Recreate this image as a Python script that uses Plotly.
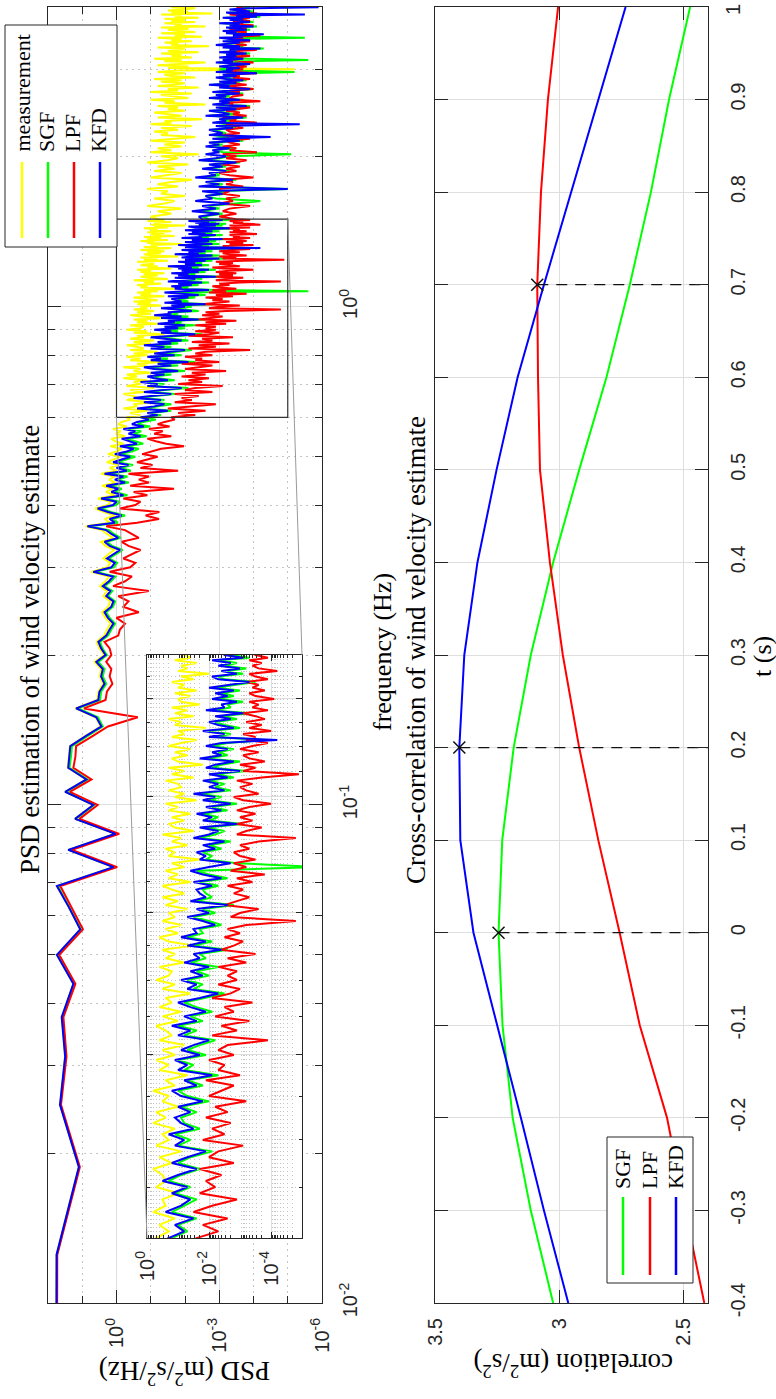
import numpy as np
import plotly.graph_objects as go

FIG_W, FIG_H = 776, 1399

# ---------------- PSD data: log10 PSD (m^2/s^2/Hz) on Welch bins ----------------
bin_width_hz = 0.00625
psd_bins = list(range(1, 241)) + list(range(243, 640, 3))

meas_log10 = [
    1.76,
    1.75, 1.10, 1.65, 1.50, 1.60, 1.26, 1.74, 1.06, 1.40, 1.74,
    0.10, 1.41, 0.04, 1.21, 0.69, 1.50, 0.89, 1.42, 1.39, 1.36,
    0.92, 0.46, 0.61, 1.20, 0.56, 0.53, 0.39, 0.49, 0.45, 0.64,
    0.36, 0.50, 0.58, 0.36, 0.27, 0.17, 0.32, 0.42, 0.24, 0.18,
    0.38, 0.28, 0.48, 0.32, 0.22, 0.74, 0.27, 0.18, 0.38, 0.24,
    0.06, 0.32, 0.45, 0.10, 0.28, 0.42, 0.90, 0.20, 0.34, 0.05,
    0.38, 0.62, 0.25, 0.18, 0.54, 0.05, 0.30, 0.12, 0.42, 0.02,
    0.22, 0.05, 0.45, 0.00, 0.20, -0.05, 0.28, 0.08, -0.10, 0.25,
    0.00, -0.15, 0.18, -0.20, 0.05, 0.15, -0.25, 0.02, -0.12, 0.10,
    -0.30, -0.05, -0.15, -0.40,
    -0.3, -0.7, -0.4, -0.9, -0.2, -0.6, -0.5, -1.0, -0.3, -0.6,
    -0.5, -0.2, -0.8, -0.4, -1.1, -0.3, -0.7, -0.5, -0.9, -0.2,
    -0.6, -0.3, -1.0, -0.5, -0.7, -0.2, -0.9, -0.6, -1.3, -0.4,
    -0.7, -0.3, -0.9, -0.5, -1.2, -0.4, -0.8, -0.6, -0.3, -1.0,
    -0.5, -1.1, -0.4, -0.8, -0.6, -1.4, -0.5, -0.9, -0.3, -0.7,
    -0.8, -0.4, -1.2, -0.6, -0.9, -0.5, -1.5, -0.7, -0.4, -1.0,
    -0.6, -1.1, -0.5, -0.9, -0.7, -1.3, -0.6, -1.0, -0.5, -1.2,
    -0.8, -0.5, -1.4, -0.7, -1.0, -0.6, -1.2, -0.8, -1.7, -0.7,
    -0.9, -0.6, -1.3, -0.8, -1.1, -0.5, -1.5, -0.9, -0.7, -1.2,
    -0.8, -1.4, -0.7, -1.0, -0.6, -1.6, -0.9, -1.2, -0.7, -1.1,
    -1.0, -0.6, -1.5, -0.8, -1.2, -0.7, -1.8, -1.0, -0.8, -1.3,
    -0.9, -1.4, -0.7, -1.1, -1.6, -0.8, -1.2, -1.0, -1.9, -0.9,
    -1.1, -0.7, -1.5, -0.9, -1.3, -0.8, -1.7, -1.1, -1.0, -1.4,
    -0.9, -1.6, -1.0, -1.2, -0.8, -1.5, -1.1, -2.0, -1.0, -1.3,
    -1.1, -1.6, -0.9, -1.4, -1.2,
    -1.0, -1.6, -1.2, -1.9, -0.9, -1.4, -1.7, -1.1, -2.0, -1.3,
    -1.5, -0.9, -1.8, -1.2, -1.6, -2.2, -1.0, -1.4, -1.9, -1.1,
    -1.7, -1.2, -2.1, -0.9, -1.5, -1.8, -1.3, -2.4, -1.0, -1.6,
    -1.2, -1.9, -1.4, -2.0, -1.0, -1.7, -2.3, -1.3, -1.5, -1.1,
    -1.8, -1.3, -2.2, -1.0, -1.6, -1.4, -2.5, -1.2, -1.9, -1.5,
    -1.1, -2.0, -1.5, -1.8, -1.2, -2.6, -1.4, -1.7, -1.0, -2.1,
    -1.6, -1.3, -2.2, -1.0, -1.8, -1.5, -2.4, -1.2, -1.7, -2.0,
    -1.3, -1.9, -1.1, -2.3, -1.6, -1.4, -2.0, -1.2, -1.8, -5.2,
    -1.5, -2.1, -1.2, -1.8, -2.6, -1.4, -1.9, -1.1, -2.2, -1.6,
    -1.9, -1.3, -2.4, -1.5, -1.7, -2.0, -1.2, -2.7, -1.6, -1.8,
    -1.4, -2.2, -1.6, -1.9, -1.2, -2.5, -1.7, -2.0, -1.3, -2.3,
    -1.8, -1.5, -2.1, -1.3, -2.6, -1.7, -1.9, -1.4, -2.3, -1.6,
    -2.0, -1.4, -2.4, -1.7, -1.9, -1.3, -2.8, -1.6, -2.1, -1.5,
    -1.9, -2.3, -1.6,
]

sgf_log10 = [
    1.75,
    1.74, 1.09, 1.64, 1.49, 1.59, 1.25, 1.72, 1.04, 1.38, 1.71,
    0.07, 1.38, 0.01, 1.18, 0.65, 1.46, 0.84, 1.37, 1.33, 1.30,
    0.85, 0.40, 0.54, 1.12, 0.48, 0.45, 0.30, 0.40, 0.35, 0.53,
    0.28, 0.41, 0.48, 0.25, 0.15, 0.04, 0.20, 0.30, 0.10, 0.04,
    0.25, 0.12, 0.35, 0.16, 0.03, 0.60, 0.08, -0.02, 0.22, 0.03,
    -0.18, 0.13, 0.28, -0.12, 0.08, 0.22, 0.78, -0.04, 0.12, -0.25,
    0.17, 0.46, 0.01, -0.10, 0.36, -0.32, 0.05, -0.15, 0.20, -0.36,
    -0.05, -0.32, 0.25, -0.42, -0.12, -0.48, -0.02, -0.28, -0.55, -0.08,
    -0.45, -0.65, -0.25, -0.78, -0.55, -0.30, -0.88, -0.50, -0.72, -0.35,
    -0.98, -0.62, -0.78, -1.15,
    -0.8, -1.3, -1.0, -1.6, -0.8, -1.2, -1.6, -0.9, -1.4, -0.7,
    -1.1, -1.7, -1.0, -1.4, -2.1, -1.0, -1.4, -0.9, -1.7, -1.2,
    -1.1, -1.6, -1.1, -2.0, -1.3, -1.0, -1.8, -1.3, -2.3, -1.2,
    -1.5, -1.0, -1.9, -1.3, -1.7, -2.2, -1.2, -1.6, -1.0, -1.8,
    -1.4, -2.1, -1.6, -1.2, -1.9, -2.5, -1.5, -1.8, -1.3, -2.0,
    -1.6, -2.3, -1.4, -1.9, -1.7, -2.6, -1.5, -2.1, -1.3, -1.8,
    -1.7, -2.4, -2.0, -1.5, -2.2, -1.8, -2.8, -1.6, -2.1, -1.9,
    -1.8, -2.3, -1.7, -2.6, -2.0, -1.6, -5.6, -2.9, -1.9, -2.1,
    -1.8, -2.4, -2.0, -2.7, -1.7, -2.2, -2.5, -1.9, -3.1, -2.0,
    -2.3, -1.8, -2.6, -2.1, -2.9, -2.0, -2.4, -1.7, -2.7, -2.2,
    -2.5, -2.0, -2.8, -2.2, -3.2, -2.1, -2.4, -3.0, -1.9, -2.6,
    -2.3, -2.8, -2.1, -2.6, -3.8, -2.2, -2.7, -2.0, -3.0, -2.5,
    -2.2, -2.9, -2.4, -3.3, -2.1, -2.7, -2.6, -3.1, -2.3, -2.8,
    -2.4, -3.0, -2.2, -2.8, -3.5, -2.5, -2.3, -3.1, -2.6, -3.2,
    -2.5, -2.9, -2.3, -3.3, -2.7,
    -2.5, -3.1, -2.4, -3.0, -2.7, -3.4, -4.2, -2.9, -2.6, -3.2,
    -2.8, -5.0, -2.6, -3.1, -2.7, -3.5, -2.5, -3.0, -2.9, -3.3,
    -2.6, -3.2, -2.8, -3.6, -2.5, -3.0, -3.3, -5.1, -3.1, -2.9,
    -3.4, -2.7, -3.1, -2.8, -3.7, -2.9, -3.3, -2.8, -3.2, -3.0,
    -2.8, -3.5, -3.0, -3.4, -2.9, -3.3, -3.1, -3.8, -2.7, -3.4,
    -3.2, -2.8, -3.6, -3.0, -3.9, -2.9, -3.4, -3.1, -3.7, -2.8,
    -3.3, -3.0, -3.7, -2.9, -3.5, -4.0, -3.1, -3.4, -2.8, -3.6,
    -3.1, -3.8, -3.3, -3.0, -3.6, -3.2, -3.5, -5.2, -3.3, -3.0,
    -3.7, -3.1, -3.4, -3.9, -3.0, -3.5, -5.6, -3.8, -3.1, -3.6,
    -3.3, -3.9, -3.1, -3.6, -3.4, -4.3, -3.2, -3.7, -3.0, -3.5,
    -3.7, -3.2, -3.9, -3.4, -5.5, -3.8, -3.5, -4.2, -3.3, -3.6,
    -3.2, -3.9, -3.5, -3.3, -4.1, -3.4, -3.7, -3.1, -4.0, -3.6,
    -3.4, -3.8, -3.2, -4.2, -3.6, -3.9, -3.5, -3.3, -4.0, -3.7,
    -3.4, -3.9, -3.6,
]

lpf_log10 = [
    1.74,
    1.73, 1.07, 1.62, 1.46, 1.55, 1.20, 1.67, 0.98, 1.32, 1.64,
    -0.02, 1.30, -0.08, 1.08, 0.55, 1.36, 0.73, 1.26, 1.20, 1.18,
    0.70, 0.25, -0.62, 0.95, 0.32, 0.28, 0.12, 0.20, 0.15, 0.30,
    0.15, 0.20, 0.35, -0.05, -0.10, -0.25, 0.00, -0.65, -0.20, -0.35,
    -0.05, -0.94, 0.10, -0.25, -0.45, 0.20, -0.40, -0.55, -0.20, -0.45,
    -0.70, -0.35, -0.15, -0.65, -0.45, -0.25, 0.30, -0.60, -1.24, -0.85,
    -1.25, -0.10, -0.55, -0.70, -0.20, -0.90, -0.50, -1.68, -0.40, -0.95,
    -0.65, -0.95, -0.35, -1.80, -0.70, -1.05, -0.60, -0.90, -1.20, -0.75,
    -1.05, -1.30, -1.97, -1.45, -1.15, -0.90, -1.60, -1.10, -1.35, -0.95,
    -1.55, -1.20, -1.40, -1.70,
    -1.6, -2.3, -1.8, -2.6, -1.5, -2.1, -2.9, -1.7, -2.2, -1.9,
    -2.4, -1.7, -2.8, -2.0, -2.3, -3.1, -1.8, -2.5, -2.1, -2.7,
    -1.9, -2.6, -2.2, -3.2, -2.0, -2.4, -2.8, -1.9, -3.0, -2.3,
    -2.5, -2.0, -2.8, -2.3, -2.6, -3.9, -2.1, -2.9, -2.4, -3.3,
    -2.2, -2.8, -2.5, -3.4, -2.1, -2.7, -3.0, -2.3, -2.9, -2.6,
    -2.9, -2.3, -3.2, -2.6, -3.5, -2.4, -2.8, -3.1, -2.5, -3.0,
    -2.6, -3.2, -4.8, -2.7, -3.0, -3.6, -2.5, -2.9, -3.3, -2.8,
    -3.1, -2.6, -3.4, -2.9, -3.8, -2.7, -3.2, -2.8, -3.5, -3.0,
    -2.8, -3.3, -3.0, -3.6, -4.8, -2.9, -3.2, -3.7, -2.9, -3.4,
    -3.0, -3.5, -2.9, -3.3, -4.0, -3.1, -2.8, -3.6, -3.2, -3.0,
    -3.4, -2.9, -3.7, -4.9, -3.1, -3.5, -3.0, -3.8, -3.3, -3.1,
    -3.6, -3.0, -3.4, -3.9, -3.2, -3.5, -3.1, -4.0, -3.3, -3.7,
    -3.2, -3.8, -3.5, -3.1, -3.9, -3.4, -3.6, -3.3, -4.1, -3.5,
    -3.3, -3.8, -3.4, -3.6, -3.2, -3.9, -3.5, -3.3, -4.2, -3.6,
    -3.4, -3.7, -3.3, -3.9, -3.5,
    -3.0, -3.5, -3.1, -3.3, -3.9, -3.0, -3.4, -3.2, -3.6, -3.1,
    -3.3, -3.0, -3.7, -3.2, -3.4, -3.1, -4.0, -3.3, -3.0, -3.5,
    -3.2, -3.6, -3.1, -3.4, -3.8, -3.2, -3.5, -3.1, -4.1, -3.3,
    -3.5, -3.1, -3.6, -3.3, -3.2, -3.9, -3.4, -3.1, -3.6, -3.3,
    -3.2, -3.7, -3.4, -3.2, -4.1, -3.3, -3.5, -3.1, -3.8, -3.4,
    -3.6, -3.2, -3.5, -3.9, -3.3, -3.4, -3.2, -4.2, -3.5, -3.3,
    -3.4, -3.7, -3.2, -3.6, -3.3, -4.0, -3.5, -3.3, -3.8, -3.4,
    -3.5, -3.3, -3.9, -3.4, -3.6, -3.2, -4.1, -3.5, -3.3, -3.7,
    -3.4, -3.8, -3.5, -3.3, -4.0, -3.6, -3.4, -3.7, -3.3, -3.9,
    -3.6, -3.3, -3.7, -3.5, -4.1, -3.4, -3.6, -3.3, -3.8, -3.5,
    -3.4, -3.9, -3.6, -3.3, -3.7, -3.5, -4.2, -3.4, -3.6, -3.8,
    -3.5, -3.3, -3.8, -3.6, -3.4, -4.0, -3.5, -3.7, -3.4, -3.9,
    -3.6, -3.4, -3.9, -3.5, -3.7, -3.3, -4.1, -3.6, -3.5, -3.8,
    -3.6, -3.7, -3.5,
]

kfd_log10 = [
    1.76,
    1.75, 1.10, 1.65, 1.50, 1.60, 1.26, 1.74, 1.06, 1.40, 1.74,
    0.09, 1.41, 0.03, 1.21, 0.68, 1.50, 0.88, 1.41, 1.38, 1.35,
    0.90, 0.44, 0.59, 1.18, 0.53, 0.50, 0.35, 0.45, 0.40, 0.59,
    0.32, 0.45, 0.53, 0.30, 0.20, 0.09, 0.25, 0.35, 0.15, 0.09,
    0.30, 0.18, 0.40, 0.22, 0.10, 0.68, 0.15, 0.05, 0.28, 0.10,
    -0.10, 0.20, 0.35, -0.05, 0.15, 0.30, 0.85, 0.05, 0.20, -0.15,
    0.25, 0.55, 0.10, 0.00, 0.45, -0.20, 0.15, -0.05, 0.30, -0.25,
    0.05, -0.20, 0.35, -0.30, 0.00, -0.35, 0.10, -0.15, -0.40, 0.05,
    -0.30, -0.50, -0.10, -0.60, -0.40, -0.15, -0.70, -0.35, -0.55, -0.20,
    -0.80, -0.45, -0.60, -0.95,
    -0.7, -1.2, -0.9, -1.5, -0.6, -1.1, -1.4, -0.8, -1.3, -0.5,
    -1.0, -1.6, -0.8, -1.3, -1.9, -0.9, -1.2, -0.7, -1.5, -1.1,
    -0.9, -1.4, -1.0, -1.8, -1.1, -0.8, -1.6, -1.2, -2.1, -1.0,
    -1.3, -0.9, -1.7, -1.1, -1.5, -2.0, -1.0, -1.4, -0.8, -1.6,
    -1.2, -1.9, -1.4, -1.0, -1.7, -2.3, -1.3, -1.6, -1.1, -1.8,
    -1.4, -2.0, -1.2, -1.7, -1.5, -2.4, -1.3, -1.9, -1.1, -1.6,
    -1.5, -2.2, -1.8, -1.3, -2.0, -1.6, -2.6, -1.4, -1.9, -1.7,
    -1.6, -2.1, -1.5, -2.4, -1.8, -1.4, -2.0, -2.7, -1.7, -1.9,
    -1.6, -2.2, -1.8, -2.5, -1.5, -2.0, -2.3, -1.7, -2.9, -1.8,
    -2.1, -1.6, -2.4, -1.9, -2.7, -1.8, -2.2, -1.5, -2.5, -2.0,
    -2.3, -1.8, -2.6, -2.0, -3.0, -1.9, -2.2, -2.8, -1.7, -2.4,
    -2.1, -2.6, -1.9, -2.4, -4.2, -2.0, -2.5, -1.8, -2.8, -2.3,
    -2.0, -2.7, -2.2, -3.1, -1.9, -2.5, -2.4, -2.9, -2.1, -2.6,
    -2.2, -2.8, -2.0, -2.6, -3.3, -2.3, -2.1, -2.9, -2.4, -3.0,
    -2.3, -2.7, -2.1, -3.1, -2.5,
    -2.4, -3.0, -2.2, -2.9, -2.5, -3.3, -2.3, -2.8, -2.6, -3.1,
    -2.5, -5.0, -2.4, -3.0, -2.6, -3.4, -2.3, -2.9, -2.7, -3.2,
    -2.5, -3.1, -2.7, -3.5, -2.4, -2.9, -3.2, -2.6, -3.0, -2.8,
    -3.3, -2.6, -3.0, -2.7, -3.6, -2.8, -4.5, -2.7, -3.1, -2.9,
    -2.7, -3.4, -2.9, -5.35, -2.8, -3.2, -3.0, -3.7, -2.6, -3.3,
    -3.1, -2.7, -3.5, -2.9, -3.8, -2.8, -3.3, -3.0, -3.6, -2.7,
    -3.2, -2.9, -3.6, -2.8, -3.4, -3.9, -3.0, -3.3, -2.7, -3.5,
    -3.0, -3.7, -3.2, -2.9, -3.5, -3.1, -4.1, -2.9, -3.4, -3.2,
    -3.6, -3.0, -3.3, -3.9, -2.9, -3.4, -3.1, -3.7, -3.0, -3.5,
    -3.2, -3.8, -3.0, -3.5, -3.3, -4.2, -3.1, -3.6, -2.9, -3.4,
    -3.6, -3.1, -3.9, -3.3, -3.0, -3.7, -3.4, -4.3, -3.2, -3.5,
    -3.1, -3.8, -3.4, -3.2, -4.0, -3.3, -3.6, -3.0, -3.9, -3.5,
    -3.3, -3.7, -3.1, -4.1, -3.5, -5.5, -3.4, -3.2, -3.9, -3.6,
    -3.3, -3.8, -5.9,
]

# ---------------- cross-correlation data ----------------
lag_t = [-0.4, -0.3, -0.2, -0.1, 0.0, 0.1, 0.2, 0.3, 0.4, 0.5, 0.6, 0.7, 0.8, 0.9, 1.0]
corr_sgf = [3.024, 3.114, 3.187, 3.228, 3.244, 3.229, 3.183, 3.114, 3.024, 2.919, 2.809, 2.715, 2.630, 2.557, 2.472]
corr_lpf = [2.415, 2.492, 2.565, 2.675, 2.756, 2.842, 2.919, 2.985, 3.037, 3.077, 3.085, 3.088, 3.073, 3.045, 3.004]
corr_kfd = [2.963, 3.061, 3.154, 3.248, 3.345, 3.398, 3.402, 3.382, 3.329, 3.252, 3.167, 3.061, 2.951, 2.842, 2.732]

# ---------------- tick labels ----------------
psd_value_ticks = [1, 1e-3, 1e-6]
psd_value_ticktext = ["10<sup>0</sup>", "10<sup>-3</sup>", "10<sup>-6</sup>"]
psd_value_minor = [1e2, 1e1, 1e-1, 1e-2, 1e-4, 1e-5]
freq_ticks = [0.01, 0.1, 1]
freq_ticktext = ["10<sup>-2</sup>", "10<sup>-1</sup>", "10<sup>0</sup>"]
freq_minor = [m * 10.0 ** e for e in (-2, -1) for m in range(2, 10)] + [2, 3, 4]
inset_value_ticks = [1, 1e-2, 1e-4]
inset_value_ticktext = ["10<sup>0</sup>", "10<sup>-2</sup>", "10<sup>-4</sup>"]
inset_value_minor = [m * 10.0 ** e for e in range(-5, 0) for m in range(2, 10)]
inset_freq_ticks = [0.6, 0.8, 1.0, 1.2, 1.4]
inset_freq_minor = [0.65, 0.7, 0.75, 0.85, 0.9, 0.95, 1.05, 1.1, 1.15, 1.25, 1.3, 1.35, 1.45]
corr_ticks = [3.5, 3.0, 2.5]
corr_ticktext = ["3.5", "3", "2.5"]
t_ticks = lag_t
t_ticktext = ["-0.4", "-0.3", "-0.2", "-0.1", "0", "0.1", "0.2", "0.3", "0.4",
              "0.5", "0.6", "0.7", "0.8", "0.9", "1"]

series_names = ["measurement", "SGF", "LPF", "KFD"]
series_colors = ["#ffff00", "#00ff00", "#ff0000", "#0000ff"]

# ---------------- layout geometry (pixels) ----------------
PSD_BOX = (48, 322, 7, 1303)      # left, right, top, bottom
CORR_BOX = (435, 708, 7, 1303)
INSET_BOX = (147, 302, 655, 1238)
PSD_VALUE_RANGE = (2, -6)         # log10, reversed
FREQ_RANGE = (-2, np.log10(4.0))
ZOOM_VALUE = (1.0, 1e-5)
ZOOM_FREQ = (0.6, 1.5)
CORR_RANGE = (3.5, 2.4)
T_RANGE = (-0.4, 1.0)

AX = "#262626"
GRID = "#dedede"
MINOR_GRID = "#c4c4c4"
SANS = "Liberation Sans, Arial, sans-serif"
SERIF = "Liberation Serif, Times New Roman, serif"


def px(x):
    return x / FIG_W


def py(y):
    return 1 - y / FIG_H


def xdom(box):
    return [px(box[0]), px(box[1])]


def ydom(box):
    return [py(box[3]), py(box[2])]


def axis_style(**kw):
    base = dict(showline=True, linecolor=AX, linewidth=1, mirror="ticks",
                ticks="inside", tickcolor=AX, tickwidth=1, ticklen=13,
                showgrid=True, gridcolor=GRID, gridwidth=1, zeroline=False,
                automargin=False, ticklabeloverflow="allow",
                tickfont=dict(family=SANS, size=20, color=AX))
    base.update(kw)
    return base


freq = np.array(psd_bins) * bin_width_hz
series_vals = [meas_log10, sgf_log10, lpf_log10, kfd_log10]

fig = go.Figure()

# main PSD panel
for name, color, vals in zip(series_names, series_colors, series_vals):
    v = np.power(10.0, np.array(vals))
    fig.add_trace(go.Scatter(x=v, y=freq[:len(v)], mode="lines", name=name,
                             line=dict(color=color, width=2),
                             xaxis="x", yaxis="y", showlegend=False))
# zoom rectangle in main panel
fig.add_trace(go.Scatter(
    x=[ZOOM_VALUE[0], ZOOM_VALUE[1], ZOOM_VALUE[1], ZOOM_VALUE[0], ZOOM_VALUE[0]],
    y=[ZOOM_FREQ[0], ZOOM_FREQ[0], ZOOM_FREQ[1], ZOOM_FREQ[1], ZOOM_FREQ[0]],
    mode="lines", line=dict(color="#333333", width=1.2),
    xaxis="x", yaxis="y", showlegend=False))

# correlation panel
corr_series = [corr_sgf, corr_lpf, corr_kfd]
for name, color, vals in zip(series_names[1:], series_colors[1:], corr_series):
    fig.add_trace(go.Scatter(x=vals, y=lag_t, mode="lines", name=name,
                             line=dict(color=color, width=2),
                             xaxis="x2", yaxis="y2", showlegend=False))
for vals in corr_series:
    i = int(np.argmax(vals))
    fig.add_trace(go.Scatter(x=[vals[i], CORR_RANGE[1]], y=[lag_t[i], lag_t[i]],
                             mode="lines", line=dict(color="#111111", width=1.3, dash="11px,8px"),
                             xaxis="x2", yaxis="y2", showlegend=False))
    fig.add_trace(go.Scatter(x=[vals[i]], y=[lag_t[i]], mode="markers",
                             marker=dict(symbol="x-thin", size=12,
                                         line=dict(color="#111111", width=1.5)),
                             xaxis="x2", yaxis="y2", showlegend=False))

# inset (zoomed PSD)
for name, color, vals in zip(series_names, series_colors, series_vals):
    v = np.power(10.0, np.array(vals))
    fig.add_trace(go.Scatter(x=v, y=freq[:len(v)], mode="lines", name=name,
                             line=dict(color=color, width=2),
                             xaxis="x3", yaxis="y3", showlegend=False))

# the top t label is drawn as an annotation so it stays inside the picture
t_axis_text = list(t_ticktext)
t_axis_text[-1] = ""

fig.update_layout(
    width=FIG_W, height=FIG_H, autosize=False,
    margin=dict(l=0, r=0, t=0, b=0, pad=0),
    paper_bgcolor="white", plot_bgcolor="white",
    template="none", showlegend=False,
    xaxis=axis_style(domain=xdom(PSD_BOX), anchor="y", type="log",
                     range=list(PSD_VALUE_RANGE), tickmode="array",
                     tickvals=psd_value_ticks, ticktext=psd_value_ticktext,
                     tickangle=-90, ticklabelstandoff=6,
                     minor=dict(tickmode="array", tickvals=psd_value_minor, ticks="inside",
                                ticklen=7, tickcolor=AX, showgrid=True,
                                gridcolor=MINOR_GRID, griddash="2px,4px")),
    yaxis=axis_style(domain=ydom(PSD_BOX), anchor="x", type="log", side="right",
                     range=list(FREQ_RANGE), tickmode="array",
                     tickvals=freq_ticks, ticktext=freq_ticktext,
                     tickangle=-90, ticklabelstandoff=10,
                     minor=dict(tickmode="array", tickvals=freq_minor, ticks="inside",
                                ticklen=7, tickcolor=AX, showgrid=True,
                                gridcolor=MINOR_GRID, griddash="2px,4px")),
    xaxis2=axis_style(domain=xdom(CORR_BOX), anchor="y2",
                      range=list(CORR_RANGE), tickmode="array",
                      tickvals=corr_ticks, ticktext=corr_ticktext,
                      tickangle=-90, ticklabelstandoff=6),
    yaxis2=axis_style(domain=ydom(CORR_BOX), anchor="x2", side="right",
                      range=list(T_RANGE), tickmode="array",
                      tickvals=t_ticks, ticktext=t_axis_text,
                      tickangle=-90, ticklabelstandoff=12),
    xaxis3=axis_style(domain=xdom(INSET_BOX), anchor="y3", type="log",
                      range=[np.log10(ZOOM_VALUE[0]), np.log10(ZOOM_VALUE[1])],
                      tickmode="array", tickvals=inset_value_ticks,
                      ticktext=inset_value_ticktext, tickangle=-90,
                      ticklabelstandoff=4, ticklen=6,
                      minor=dict(tickmode="array", tickvals=inset_value_minor, ticks="inside",
                                 ticklen=3, tickcolor=AX, showgrid=True,
                                 gridcolor=MINOR_GRID, griddash="1px,3px")),
    yaxis3=axis_style(domain=ydom(INSET_BOX), anchor="x3", type="log",
                      range=[np.log10(ZOOM_FREQ[0]), np.log10(ZOOM_FREQ[1])],
                      tickmode="array", tickvals=inset_freq_ticks,
                      showticklabels=False, ticklen=6,
                      minor=dict(tickmode="array", tickvals=inset_freq_minor, ticks="inside",
                                 ticklen=3, tickcolor=AX, showgrid=True,
                                 gridcolor=MINOR_GRID, griddash="1px,3px")),
)


# ---- helpers mapping data -> paper for the zoom connectors ----
def psd_x_paper(v):
    lo, hi = PSD_VALUE_RANGE
    d = xdom(PSD_BOX)
    return d[0] + (np.log10(v) - lo) / (hi - lo) * (d[1] - d[0])


def psd_y_paper(f):
    lo, hi = FREQ_RANGE
    d = ydom(PSD_BOX)
    return d[0] + (np.log10(f) - lo) / (hi - lo) * (d[1] - d[0])


ix, iy = xdom(INSET_BOX), ydom(INSET_BOX)
shapes = [
    dict(type="line", xref="paper", yref="paper",
         x0=psd_x_paper(ZOOM_VALUE[0]), y0=psd_y_paper(ZOOM_FREQ[0]),
         x1=ix[0], y1=iy[0], line=dict(color="#9a9a9a", width=1), layer="above"),
    dict(type="line", xref="paper", yref="paper",
         x0=psd_x_paper(ZOOM_VALUE[1]), y0=psd_y_paper(ZOOM_FREQ[1]),
         x1=ix[1], y1=iy[1], line=dict(color="#9a9a9a", width=1), layer="above"),
]

annotations = [
    dict(text=t_ticktext[-1], xref="paper", yref="paper", x=px(733), y=py(10),
         xanchor="center", yanchor="middle", textangle=-90, showarrow=False,
         font=dict(family=SANS, size=20, color=AX)),
]


# ---- rotated legends ----
def add_legend(box, names, colors, text_x, line_x, text_bottom, line_top, line_bottom):
    shapes.append(dict(type="rect", xref="paper", yref="paper",
                       x0=px(box[0]), x1=px(box[1]), y0=py(box[3]), y1=py(box[2]),
                       fillcolor="white", line=dict(color=AX, width=1), layer="above"))
    for n, c, tx, lx in zip(names, colors, text_x, line_x):
        shapes.append(dict(type="line", xref="paper", yref="paper",
                           x0=px(lx), x1=px(lx), y0=py(line_top), y1=py(line_bottom),
                           line=dict(color=c, width=2.5), layer="above"))
        annotations.append(dict(text=n, xref="paper", yref="paper", x=px(tx), y=py(text_bottom),
                                xanchor="center", yanchor="bottom", textangle=-90,
                                showarrow=False, font=dict(family=SERIF, size=22, color="black")))


add_legend((5, 117, 25, 247), series_names, series_colors,
           [22, 47, 73, 99], [22, 48, 74, 100], 154, 162, 238)
add_legend((607, 693, 1137, 1283), series_names[1:], series_colors[1:],
           [622, 649, 675], [623, 650, 676], 1191, 1197, 1275)


# ---- titles and axis labels (rotated) ----
def label(text, x, y, angle, size=27):
    annotations.append(dict(text=text, xref="paper", yref="paper", x=px(x), y=py(y),
                            xanchor="center", yanchor="middle", textangle=angle,
                            showarrow=False, font=dict(family=SERIF, size=size, color="black")))


label("PSD estimation of wind velocity estimate", 30, 650, -90)
label("Cross-correlation of wind velocity estimate", 416, 650, -90)
label("frequency (Hz)", 383, 652, -90, 26)
label("t (s)", 763, 657, -90, 26)
label("PSD (m<sup>2</sup>/s<sup>2</sup>/Hz)", 185, 1373, 180)
label("correlation (m<sup>2</sup>/s<sup>2</sup>)", 573, 1365, 180)

fig.update_layout(shapes=shapes, annotations=annotations)

fig.write_html("out.html")
